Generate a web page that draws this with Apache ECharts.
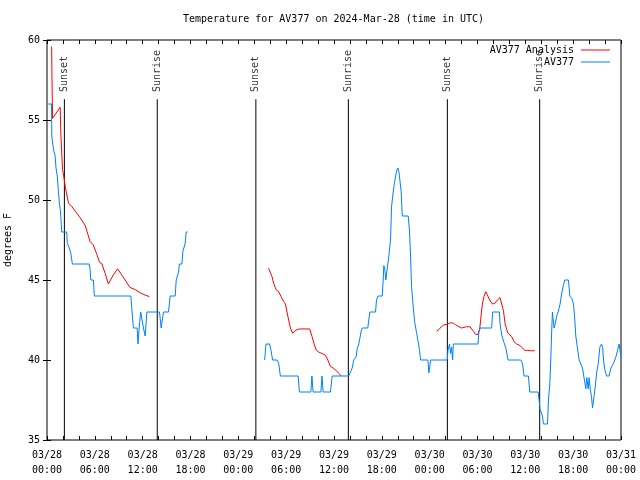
<!DOCTYPE html>
<html>
<head>
<meta charset="utf-8">
<script src="https://cdn.jsdelivr.net/npm/echarts@6/dist/echarts.min.js"></script>
<style>html,body{margin:0;padding:0;background:#fff}#c{width:640px;height:480px}</style>
</head>
<body>
<div id="c"></div>
<script>
// hours since 2024-03-28 00:00 UTC
const obsHours = [0.16,0.57,0.60,0.72,0.88,1.01,1.13,1.29,1.42,1.55,1.67,1.78,1.85,2.47,2.55,2.80,2.98,3.18,5.28,5.40,5.49,5.82,5.94,10.52,10.64,10.84,11.31,11.41,11.56,11.75,11.90,12.10,12.31,12.53,14.11,14.32,14.61,15.24,15.45,16.08,16.21,16.50,16.62,16.92,17.05,17.34,17.46,17.63,
  17.70,
  27.30,27.47,27.92,28.10,28.30,28.86,29.06,29.27,31.50,31.66,33.10,33.23,33.38,34.36,34.49,34.64,35.55,35.77,37.85,38.28,38.48,38.78,38.91,39.11,39.41,39.54,40.24,40.49,41.21,41.33,41.55,42.05,42.17,42.25,42.37,42.50,42.75,42.88,43.09,43.22,43.43,43.59,43.84,44.01,44.13,44.26,44.43,44.56,45.31,45.48,45.60,45.73,45.89,46.11,46.36,46.52,46.73,46.86,47.78,47.90,48.12,50.21,50.29,50.50,50.63,50.75,50.88,50.97,54.06,54.18,54.31,55.78,55.90,56.75,56.82,57.04,57.32,57.58,57.83,59.42,59.64,59.84,60.39,60.55,61.60,61.77,61.85,62.02,62.15,62.27,62.78,62.90,63.07,63.19,63.32,63.40,63.48,63.60,63.73,63.91,64.11,64.36,64.57,64.79,64.95,65.41,65.58,65.83,66.04,66.21,66.33,66.55,66.75,66.96,67.17,67.38,67.59,67.71,67.88,68.00,68.13,68.30,68.43,68.63,68.76,68.97,69.13,69.35,69.56,69.69,69.81,69.97,70.19,70.51,70.73,71.07,71.36,71.57,71.77,71.98];
const obsTemps = [56,56,54,53.5,53,52.8,52,51.5,50.6,49.8,49.4,48.6,48,48,47.3,47,46.7,46,46,45.7,45,45,44,44,43.2,42,42,41,42,43,43,42,41.5,43,43,42,43,43,44,44,45,45.5,46,46,46.8,47.3,48,48,
  null,
  40,41,41,40.6,40,40,39.8,39,39,38,38,39,38,38,39,38,38,39,39,39.5,40,40.2,40.7,41,41.8,42,42,43,43,43.75,44,44,45,45.9,45.7,45,45,46.5,47.5,49.6,50.5,51.1,51.8,52,51.8,51.25,50.5,49,49,48,46.5,44.6,43.6,42.4,41.7,41.25,40.6,40,40,39.2,40,40,40.6,41,40.4,40.8,40,41,41,41.8,42,42,43,43,42.3,41.56,41.1,40.7,40,40,39.8,39,39,38,38,37.3,36.9,36.8,36.5,36,36,37.5,38.5,40,42,43,42.6,42,42.2,42.7,43,43.5,44.2,44.7,45,45,44,43.85,43.5,42.5,41.5,40.7,40,40,39.5,38.85,38.2,38.9,38.2,38.9,38.2,37.7,37,37,38.3,39.3,39.7,40.8,41,40.8,40,39.4,39,39,39.5,39.8,40.2,40.6,41,40.2];

const anaHours = [0.58,0.63,0.70,1.65,1.75,1.95,2.10,2.30,2.70,3.10,3.70,4.15,4.80,5.00,5.40,5.80,6.25,6.60,6.90,7.30,7.70,8.30,8.85,9.40,9.80,10.40,11.05,11.70,12.30,12.85,
  12.90,
  27.80,28.02,28.23,28.43,28.73,29.06,29.36,29.69,29.90,30.11,30.31,30.53,30.82,31.07,31.37,31.70,32.95,33.25,33.54,33.79,34.08,34.51,34.92,35.14,35.55,35.89,36.31,36.60,36.90,
  37.00,
  48.87,49.16,49.46,49.79,50.21,50.63,50.97,51.26,51.67,51.97,52.30,52.64,53.05,53.23,53.48,53.77,54.06,54.27,54.48,54.61,54.81,55.03,55.24,55.53,55.87,56.16,56.49,56.82,57.04,57.25,57.45,57.66,57.83,58.08,58.29,58.58,58.92,59.21,59.55,59.92,60.26,60.68,61.18];
const anaTemps = [59.6,57.4,55.1,55.8,54.0,51.9,51.5,50.8,49.8,49.6,49.2,48.9,48.4,48.3,47.4,47.2,46.6,46.1,46.0,45.4,44.75,45.3,45.7,45.3,45.0,44.54,44.4,44.2,44.06,43.96,
  null,
  45.73,45.7,45.2,44.8,44.4,44.27,43.96,43.65,43.5,43.0,42.5,42.0,41.67,41.8,41.9,41.94,41.94,41.46,40.94,40.6,40.5,40.4,40.3,40.1,39.6,39.5,39.33,39.17,39.0,
  null,
  41.8,41.9,42.08,42.2,42.23,42.33,42.3,42.2,42.08,42.0,42.04,42.08,42.08,42.0,41.8,41.6,41.6,41.9,42.9,43.5,43.96,44.27,44.06,43.75,43.5,43.54,43.75,43.9,43.85,43.1,42.3,41.9,41.67,41.67,41.46,41.15,41.0,40.94,40.8,40.6,40.6,40.58,40.58];

const eventHours = [2.18, 13.83, 26.2, 37.8, 50.22, 61.8];
const eventNames = ['Sunset','Sunrise','Sunset','Sunrise','Sunset','Sunrise'];

const tickLabels = ['03/28\n00:00','03/28\n06:00','03/28\n12:00','03/28\n18:00','03/29\n00:00','03/29\n06:00','03/29\n12:00','03/29\n18:00','03/30\n00:00','03/30\n06:00','03/30\n12:00','03/30\n18:00','03/31\n00:00'];

const FONT = 'DejaVu Sans Mono';
const zip = (a, b) => a.map((v, i) => [v, b[i]]);

const lineData = [];
eventHours.forEach(h => { lineData.push([h, 35], [h, 56.3], [h, null]); });

const chart = echarts.init(document.getElementById('c'), null, {renderer: 'canvas'});
const tickStyle = {show: true, inside: true, length: 4, lineStyle: {color: '#000', width: 1}};
chart.setOption({
  animation: false,
  backgroundColor: '#fff',
  title: {
    text: 'Temperature for AV377 on 2024-Mar-28 (time in UTC)',
    left: 183, top: 13, padding: 0,
    textStyle: {fontFamily: FONT, fontSize: 10, fontWeight: 'normal', color: '#000', lineHeight: 12}
  },
  legend: {
    orient: 'vertical', align: 'right', right: 30, top: 44, padding: 0,
    itemWidth: 29, itemHeight: 1, itemGap: 0, icon: 'rect',
    data: ['AV377 Analysis', 'AV377'],
    textStyle: {fontFamily: FONT, fontSize: 10, color: '#000', lineHeight: 12, padding: [0, 2, 0, 0]}
  },
  grid: {left: 47, right: 19, top: 40, bottom: 40, containLabel: false, outerBoundsMode: 'none',
    show: true, borderColor: '#000', borderWidth: 1},
  xAxis: [{
    type: 'value', min: 0, max: 72, interval: 2,
    axisLine: {show: false}, axisTick: tickStyle, splitLine: {show: false},
    axisLabel: {
      fontFamily: FONT, fontSize: 10, color: '#000', margin: 8, lineHeight: 15,
      formatter: v => (v % 6 === 0 ? tickLabels[v / 6] : '')
    }
  }, {
    type: 'value', min: 0, max: 72, interval: 2, position: 'top',
    axisLine: {show: false}, axisTick: tickStyle, axisLabel: {show: false}, splitLine: {show: false}
  }],
  yAxis: [{
    type: 'value', min: 35, max: 60, interval: 5,
    name: 'degrees F', nameLocation: 'middle', nameRotate: 90, nameGap: 34,
    nameTextStyle: {fontFamily: FONT, fontSize: 10, color: '#000'},
    axisLine: {show: false}, axisTick: tickStyle, splitLine: {show: false},
    axisLabel: {fontFamily: FONT, fontSize: 10, color: '#000', margin: 7}
  }, {
    type: 'value', min: 35, max: 60, interval: 5, position: 'right',
    axisLine: {show: false}, axisTick: tickStyle, axisLabel: {show: false}, splitLine: {show: false}
  }],
  series: [
    {
      name: 'sun', type: 'line', data: lineData, symbol: 'none', silent: true,
      lineStyle: {color: '#000', width: 1}, connectNulls: false, z: 1
    },
    {
      name: 'sunLabels', type: 'scatter', symbolSize: 0, silent: true,
      data: eventHours.map((h, i) => [h, 56.75, eventNames[i]]),
      label: {
        show: true, position: 'top', distance: 0, rotate: 90, align: 'left', verticalAlign: 'middle',
        formatter: p => p.data[2], fontFamily: FONT, fontSize: 10, color: '#000'
      }
    },
    {
      name: 'AV377 Analysis', type: 'line', data: zip(anaHours, anaTemps), symbol: 'none',
      connectNulls: false, lineStyle: {color: '#ff0000', width: 1}, itemStyle: {color: '#ff0000'}, z: 2
    },
    {
      name: 'AV377', type: 'line', data: zip(obsHours, obsTemps), symbol: 'none',
      connectNulls: false, lineStyle: {color: '#0080ff', width: 1}, itemStyle: {color: '#0080ff'}, z: 3
    }
  ]
});
</script>
</body>
</html>
